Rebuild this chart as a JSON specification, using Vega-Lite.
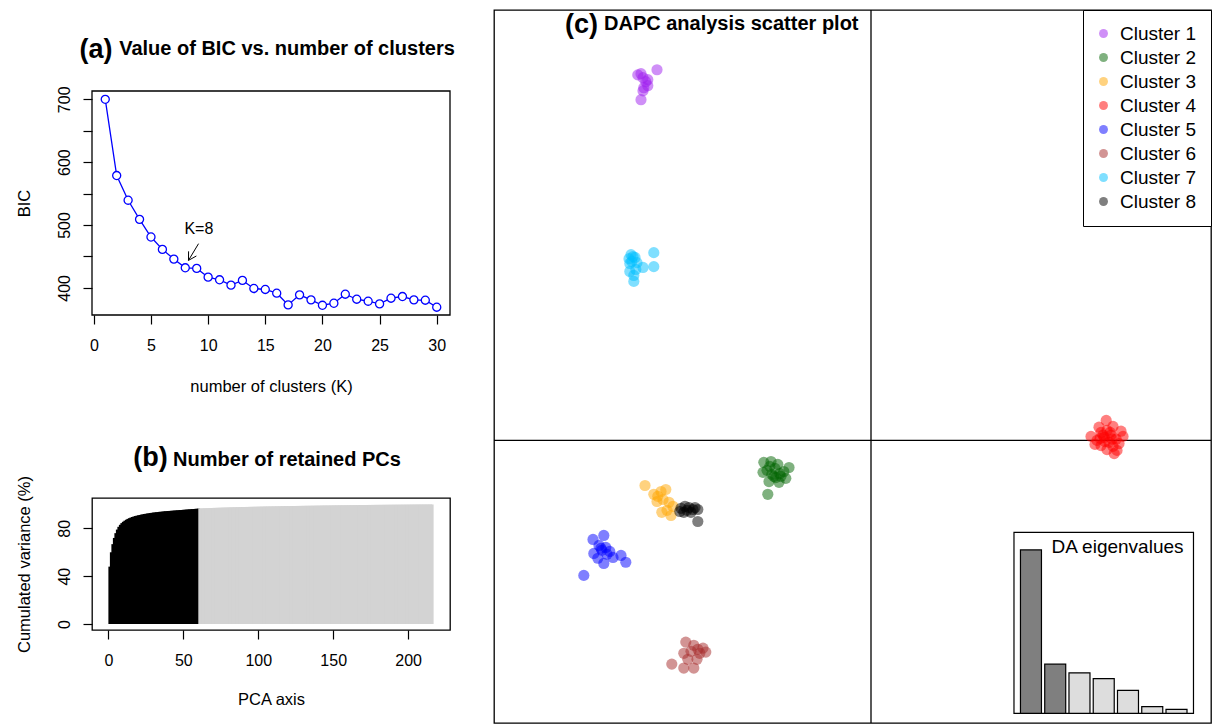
{
  "$schema": "https://vega.github.io/schema/vega-lite/v6.json",
  "padding": {"left": 15, "top": 8, "right": 0, "bottom": 0},
  "background": "white",
  "config": {
    "font": "Liberation Sans",
    "view": {"stroke": "black", "strokeWidth": 1.3},
    "axis": {"domain": false, "grid": false, "tickColor": "black", "tickSize": 9, "tickWidth": 1.2, "labelColor": "black", "labelFontSize": 16, "titleFontSize": 16.5, "titleFontWeight": "normal", "titleColor": "black", "labelFlush": false, "labelBound": false, "labelOverlap": false},
    "axisY": {"labelAngle": 270, "labelAlign": "center", "labelBaseline": "middle", "labelPadding": 19, "titleX": -68, "titleBaseline": "middle", "titleAngle": 270},
    "axisX": {"labelBaseline": "middle", "labelPadding": 21, "titleBaseline": "middle"},
    "title": {"fontSize": 20, "fontWeight": "bold", "color": "black", "baseline": "alphabetic", "anchor": "middle", "frame": "group"},
    "legend": {"orient": "top-right", "offset": 0, "padding": 14, "strokeColor": "black", "fillColor": "white", "labelFontSize": 19, "labelColor": "black", "symbolSize": 80, "symbolType": "circle", "symbolOpacity": 0.5, "symbolOffset": -3, "rowPadding": 4, "labelOffset": 7, "title": null}
  },
  "datasets": {
    "bic": [
      {"k": 1, "bic": 700}, {"k": 2, "bic": 578.7}, {"k": 3, "bic": 539.4}, {"k": 4, "bic": 509.0}, {"k": 5, "bic": 480.9},
      {"k": 6, "bic": 461.2}, {"k": 7, "bic": 445.8}, {"k": 8, "bic": 431.9}, {"k": 9, "bic": 430.9}, {"k": 10, "bic": 417.0},
      {"k": 11, "bic": 412.8}, {"k": 12, "bic": 404.3}, {"k": 13, "bic": 411.8}, {"k": 14, "bic": 399.0}, {"k": 15, "bic": 397.4},
      {"k": 16, "bic": 391.5}, {"k": 17, "bic": 372.9}, {"k": 18, "bic": 388.9}, {"k": 19, "bic": 380.9}, {"k": 20, "bic": 372.3},
      {"k": 21, "bic": 375.5}, {"k": 22, "bic": 389.9}, {"k": 23, "bic": 381.9}, {"k": 24, "bic": 378.7}, {"k": 25, "bic": 374.5},
      {"k": 26, "bic": 383.5}, {"k": 27, "bic": 386.2}, {"k": 28, "bic": 380.9}, {"k": 29, "bic": 380.3}, {"k": 30, "bic": 369.2}
    ],
    "arrow": [
      {"x": 9.16, "y": 470.3, "x2": 8.28, "y2": 443.7},
      {"x": 8.28, "y": 443.7, "x2": 8.97, "y2": 450.7},
      {"x": 8.28, "y": 443.7, "x2": 8.29, "y2": 458.1}
    ],
    "pcs": [
      {"pc":1,"cv":48.0},{"pc":2,"cv":60.0},{"pc":3,"cv":66.8},{"pc":4,"cv":72.0},{"pc":5,"cv":76.0},{"pc":6,"cv":79.0},{"pc":7,"cv":81.3},{"pc":8,"cv":83.0},{"pc":9,"cv":84.4},{"pc":10,"cv":85.5},
      {"pc":11,"cv":86.4},{"pc":12,"cv":87.2},{"pc":13,"cv":87.9},{"pc":14,"cv":88.5},{"pc":15,"cv":89.0},{"pc":16,"cv":89.5},{"pc":17,"cv":89.9},{"pc":18,"cv":90.3},{"pc":19,"cv":90.6},{"pc":20,"cv":90.9},
      {"pc":21,"cv":91.2},{"pc":22,"cv":91.5},{"pc":23,"cv":91.7},{"pc":24,"cv":92.0},{"pc":25,"cv":92.2},{"pc":26,"cv":92.4},{"pc":27,"cv":92.6},{"pc":28,"cv":92.8},{"pc":29,"cv":93.0},{"pc":30,"cv":93.2},
      {"pc":31,"cv":93.3},{"pc":32,"cv":93.5},{"pc":33,"cv":93.6},{"pc":34,"cv":93.8},{"pc":35,"cv":93.9},{"pc":36,"cv":94.0},{"pc":37,"cv":94.2},{"pc":38,"cv":94.3},{"pc":39,"cv":94.4},{"pc":40,"cv":94.5},
      {"pc":41,"cv":94.6},{"pc":42,"cv":94.7},{"pc":43,"cv":94.8},{"pc":44,"cv":94.9},{"pc":45,"cv":95.0},{"pc":46,"cv":95.1},{"pc":47,"cv":95.2},{"pc":48,"cv":95.3},{"pc":49,"cv":95.4},{"pc":50,"cv":95.5},
      {"pc":51,"cv":95.6},{"pc":52,"cv":95.7},{"pc":53,"cv":95.8},{"pc":54,"cv":95.9},{"pc":55,"cv":96.0},{"pc":56,"cv":96.1},{"pc":57,"cv":96.2},{"pc":58,"cv":96.3},{"pc":59,"cv":96.4},{"pc":60,"cv":96.5},
      {"pc":61,"cv":96.65},{"pc":62,"cv":96.70},{"pc":63,"cv":96.75},{"pc":64,"cv":96.80},{"pc":65,"cv":96.85},{"pc":66,"cv":96.90},{"pc":67,"cv":96.95},{"pc":68,"cv":97.00},{"pc":69,"cv":97.05},{"pc":70,"cv":97.10},
      {"pc":71,"cv":97.14},{"pc":72,"cv":97.18},{"pc":73,"cv":97.22},{"pc":74,"cv":97.26},{"pc":75,"cv":97.30},{"pc":76,"cv":97.34},{"pc":77,"cv":97.38},{"pc":78,"cv":97.42},{"pc":79,"cv":97.46},{"pc":80,"cv":97.50},
      {"pc":81,"cv":97.54},{"pc":82,"cv":97.58},{"pc":83,"cv":97.62},{"pc":84,"cv":97.66},{"pc":85,"cv":97.70},{"pc":86,"cv":97.73},{"pc":87,"cv":97.76},{"pc":88,"cv":97.79},{"pc":89,"cv":97.82},{"pc":90,"cv":97.85},
      {"pc":91,"cv":97.88},{"pc":92,"cv":97.91},{"pc":93,"cv":97.94},{"pc":94,"cv":97.97},{"pc":95,"cv":98.00},{"pc":96,"cv":98.03},{"pc":97,"cv":98.06},{"pc":98,"cv":98.09},{"pc":99,"cv":98.12},{"pc":100,"cv":98.15},
      {"pc":101,"cv":98.18},{"pc":102,"cv":98.21},{"pc":103,"cv":98.24},{"pc":104,"cv":98.27},{"pc":105,"cv":98.30},{"pc":106,"cv":98.32},{"pc":107,"cv":98.34},{"pc":108,"cv":98.36},{"pc":109,"cv":98.38},{"pc":110,"cv":98.40},
      {"pc":111,"cv":98.43},{"pc":112,"cv":98.45},{"pc":113,"cv":98.48},{"pc":114,"cv":98.50},{"pc":115,"cv":98.53},{"pc":116,"cv":98.55},{"pc":117,"cv":98.58},{"pc":118,"cv":98.60},{"pc":119,"cv":98.62},{"pc":120,"cv":98.64},
      {"pc":121,"cv":98.66},{"pc":122,"cv":98.68},{"pc":123,"cv":98.70},{"pc":124,"cv":98.72},{"pc":125,"cv":98.74},{"pc":126,"cv":98.76},{"pc":127,"cv":98.78},{"pc":128,"cv":98.80},{"pc":129,"cv":98.82},{"pc":130,"cv":98.84},
      {"pc":131,"cv":98.86},{"pc":132,"cv":98.88},{"pc":133,"cv":98.90},{"pc":134,"cv":98.92},{"pc":135,"cv":98.94},{"pc":136,"cv":98.96},{"pc":137,"cv":98.98},{"pc":138,"cv":99.00},{"pc":139,"cv":99.02},{"pc":140,"cv":99.04},
      {"pc":141,"cv":99.06},{"pc":142,"cv":99.08},{"pc":143,"cv":99.10},{"pc":144,"cv":99.12},{"pc":145,"cv":99.14},{"pc":146,"cv":99.15},{"pc":147,"cv":99.17},{"pc":148,"cv":99.19},{"pc":149,"cv":99.21},{"pc":150,"cv":99.23},
      {"pc":151,"cv":99.24},{"pc":152,"cv":99.26},{"pc":153,"cv":99.28},{"pc":154,"cv":99.29},{"pc":155,"cv":99.31},{"pc":156,"cv":99.33},{"pc":157,"cv":99.34},{"pc":158,"cv":99.36},{"pc":159,"cv":99.37},{"pc":160,"cv":99.39},
      {"pc":161,"cv":99.40},{"pc":162,"cv":99.42},{"pc":163,"cv":99.43},{"pc":164,"cv":99.45},{"pc":165,"cv":99.46},{"pc":166,"cv":99.48},{"pc":167,"cv":99.49},{"pc":168,"cv":99.51},{"pc":169,"cv":99.52},{"pc":170,"cv":99.54},
      {"pc":171,"cv":99.55},{"pc":172,"cv":99.56},{"pc":173,"cv":99.58},{"pc":174,"cv":99.59},{"pc":175,"cv":99.60},{"pc":176,"cv":99.62},{"pc":177,"cv":99.63},{"pc":178,"cv":99.64},{"pc":179,"cv":99.66},{"pc":180,"cv":99.67},
      {"pc":181,"cv":99.68},{"pc":182,"cv":99.69},{"pc":183,"cv":99.71},{"pc":184,"cv":99.72},{"pc":185,"cv":99.73},{"pc":186,"cv":99.74},{"pc":187,"cv":99.75},{"pc":188,"cv":99.77},{"pc":189,"cv":99.78},{"pc":190,"cv":99.79},
      {"pc":191,"cv":99.80},{"pc":192,"cv":99.81},{"pc":193,"cv":99.82},{"pc":194,"cv":99.83},{"pc":195,"cv":99.84},{"pc":196,"cv":99.85},{"pc":197,"cv":99.86},{"pc":198,"cv":99.87},{"pc":199,"cv":99.88},{"pc":200,"cv":99.89},
      {"pc":201,"cv":99.90},{"pc":202,"cv":99.91},{"pc":203,"cv":99.92},{"pc":204,"cv":99.93},{"pc":205,"cv":99.94},{"pc":206,"cv":99.95},{"pc":207,"cv":99.96},{"pc":208,"cv":99.97},{"pc":209,"cv":99.97},{"pc":210,"cv":99.98},
      {"pc":211,"cv":99.98},{"pc":212,"cv":99.99},{"pc":213,"cv":99.99},{"pc":214,"cv":100},{"pc":215,"cv":100},{"pc":216,"cv":100}
    ],
    "scatter": [
      {"cluster":"Cluster 1","ld1":-5.35,"ld2":9.28},{"cluster":"Cluster 1","ld1":-5.83,"ld2":9.15},{"cluster":"Cluster 1","ld1":-5.75,"ld2":9.18},{"cluster":"Cluster 1","ld1":-5.70,"ld2":9.08},{"cluster":"Cluster 1","ld1":-5.63,"ld2":8.98},
      {"cluster":"Cluster 1","ld1":-5.58,"ld2":9.03},{"cluster":"Cluster 1","ld1":-5.58,"ld2":8.88},{"cluster":"Cluster 1","ld1":-5.68,"ld2":8.83},{"cluster":"Cluster 1","ld1":-5.70,"ld2":8.75},{"cluster":"Cluster 1","ld1":-5.75,"ld2":8.53},
      {"cluster":"Cluster 2","ld1":-2.68,"ld2":-0.55},{"cluster":"Cluster 2","ld1":-2.50,"ld2":-0.53},{"cluster":"Cluster 2","ld1":-2.33,"ld2":-0.60},{"cluster":"Cluster 2","ld1":-2.05,"ld2":-0.68},{"cluster":"Cluster 2","ld1":-2.70,"ld2":-0.80},
      {"cluster":"Cluster 2","ld1":-2.18,"ld2":-0.78},{"cluster":"Cluster 2","ld1":-2.13,"ld2":-0.95},{"cluster":"Cluster 2","ld1":-2.30,"ld2":-1.05},{"cluster":"Cluster 2","ld1":-2.55,"ld2":-1.03},{"cluster":"Cluster 2","ld1":-2.58,"ld2":-1.35},
      {"cluster":"Cluster 2","ld1":-2.43,"ld2":-0.90},{"cluster":"Cluster 2","ld1":-2.48,"ld2":-0.85},{"cluster":"Cluster 2","ld1":-2.38,"ld2":-0.93},{"cluster":"Cluster 2","ld1":-2.60,"ld2":-0.75},{"cluster":"Cluster 2","ld1":-2.25,"ld2":-0.90},
      {"cluster":"Cluster 2","ld1":-2.40,"ld2":-0.70},{"cluster":"Cluster 2","ld1":-2.53,"ld2":-0.65},{"cluster":"Cluster 2","ld1":-2.28,"ld2":-0.83},
      {"cluster":"Cluster 3","ld1":-5.65,"ld2":-1.13},{"cluster":"Cluster 3","ld1":-5.43,"ld2":-1.35},{"cluster":"Cluster 3","ld1":-5.25,"ld2":-1.28},{"cluster":"Cluster 3","ld1":-5.13,"ld2":-1.23},{"cluster":"Cluster 3","ld1":-5.33,"ld2":-1.40},
      {"cluster":"Cluster 3","ld1":-5.20,"ld2":-1.48},{"cluster":"Cluster 3","ld1":-5.35,"ld2":-1.53},{"cluster":"Cluster 3","ld1":-5.05,"ld2":-1.55},{"cluster":"Cluster 3","ld1":-4.95,"ld2":-1.65},{"cluster":"Cluster 3","ld1":-5.23,"ld2":-1.80},
      {"cluster":"Cluster 3","ld1":-5.00,"ld2":-1.88},{"cluster":"Cluster 3","ld1":-5.10,"ld2":-1.75},
      {"cluster":"Cluster 4","ld1":5.88,"ld2":0.50},{"cluster":"Cluster 4","ld1":5.70,"ld2":0.33},{"cluster":"Cluster 4","ld1":6.05,"ld2":0.35},{"cluster":"Cluster 4","ld1":6.25,"ld2":0.23},{"cluster":"Cluster 4","ld1":5.50,"ld2":0.10},
      {"cluster":"Cluster 4","ld1":5.75,"ld2":0.20},{"cluster":"Cluster 4","ld1":5.90,"ld2":0.25},{"cluster":"Cluster 4","ld1":6.00,"ld2":0.13},{"cluster":"Cluster 4","ld1":5.83,"ld2":0.08},{"cluster":"Cluster 4","ld1":6.13,"ld2":0.03},
      {"cluster":"Cluster 4","ld1":5.65,"ld2":0.00},{"cluster":"Cluster 4","ld1":5.95,"ld2":-0.05},{"cluster":"Cluster 4","ld1":6.20,"ld2":-0.08},{"cluster":"Cluster 4","ld1":5.75,"ld2":-0.13},{"cluster":"Cluster 4","ld1":6.05,"ld2":-0.15},
      {"cluster":"Cluster 4","ld1":5.90,"ld2":-0.23},{"cluster":"Cluster 4","ld1":6.15,"ld2":-0.25},{"cluster":"Cluster 4","ld1":6.08,"ld2":-0.33},{"cluster":"Cluster 4","ld1":5.60,"ld2":-0.10},{"cluster":"Cluster 4","ld1":5.80,"ld2":0.13},
      {"cluster":"Cluster 4","ld1":5.98,"ld2":0.20},{"cluster":"Cluster 4","ld1":5.85,"ld2":-0.03},{"cluster":"Cluster 4","ld1":6.03,"ld2":0.03},{"cluster":"Cluster 4","ld1":6.30,"ld2":0.10},{"cluster":"Cluster 4","ld1":5.73,"ld2":0.05},
      {"cluster":"Cluster 5","ld1":-6.95,"ld2":-2.48},{"cluster":"Cluster 5","ld1":-6.68,"ld2":-2.38},{"cluster":"Cluster 5","ld1":-6.80,"ld2":-2.63},{"cluster":"Cluster 5","ld1":-6.63,"ld2":-2.68},{"cluster":"Cluster 5","ld1":-6.73,"ld2":-2.75},
      {"cluster":"Cluster 5","ld1":-6.53,"ld2":-2.78},{"cluster":"Cluster 5","ld1":-6.93,"ld2":-2.83},{"cluster":"Cluster 5","ld1":-6.25,"ld2":-2.88},{"cluster":"Cluster 5","ld1":-6.13,"ld2":-3.05},{"cluster":"Cluster 5","ld1":-6.68,"ld2":-3.08},
      {"cluster":"Cluster 5","ld1":-6.83,"ld2":-2.95},{"cluster":"Cluster 5","ld1":-6.45,"ld2":-2.93},{"cluster":"Cluster 5","ld1":-7.18,"ld2":-3.38},{"cluster":"Cluster 5","ld1":-6.60,"ld2":-2.85},{"cluster":"Cluster 5","ld1":-6.75,"ld2":-2.70},
      {"cluster":"Cluster 6","ld1":-4.63,"ld2":-5.05},{"cluster":"Cluster 6","ld1":-4.43,"ld2":-5.13},{"cluster":"Cluster 6","ld1":-4.20,"ld2":-5.20},{"cluster":"Cluster 6","ld1":-4.13,"ld2":-5.30},{"cluster":"Cluster 6","ld1":-4.68,"ld2":-5.33},
      {"cluster":"Cluster 6","ld1":-4.50,"ld2":-5.28},{"cluster":"Cluster 6","ld1":-4.33,"ld2":-5.23},{"cluster":"Cluster 6","ld1":-4.35,"ld2":-5.48},{"cluster":"Cluster 6","ld1":-4.58,"ld2":-5.48},{"cluster":"Cluster 6","ld1":-4.98,"ld2":-5.60},
      {"cluster":"Cluster 6","ld1":-4.68,"ld2":-5.70},{"cluster":"Cluster 6","ld1":-4.43,"ld2":-5.70},{"cluster":"Cluster 6","ld1":-4.28,"ld2":-5.33},
      {"cluster":"Cluster 7","ld1":-6.00,"ld2":4.65},{"cluster":"Cluster 7","ld1":-5.95,"ld2":4.60},{"cluster":"Cluster 7","ld1":-6.05,"ld2":4.55},{"cluster":"Cluster 7","ld1":-5.90,"ld2":4.58},{"cluster":"Cluster 7","ld1":-5.98,"ld2":4.48},
      {"cluster":"Cluster 7","ld1":-6.03,"ld2":4.43},{"cluster":"Cluster 7","ld1":-5.85,"ld2":4.45},{"cluster":"Cluster 7","ld1":-5.70,"ld2":4.33},{"cluster":"Cluster 7","ld1":-5.43,"ld2":4.70},{"cluster":"Cluster 7","ld1":-5.43,"ld2":4.35},
      {"cluster":"Cluster 7","ld1":-6.03,"ld2":4.23},{"cluster":"Cluster 7","ld1":-5.93,"ld2":4.13},{"cluster":"Cluster 7","ld1":-5.93,"ld2":3.98},{"cluster":"Cluster 7","ld1":-5.88,"ld2":4.28},
      {"cluster":"Cluster 8","ld1":-4.75,"ld2":-1.70},{"cluster":"Cluster 8","ld1":-4.65,"ld2":-1.65},{"cluster":"Cluster 8","ld1":-4.55,"ld2":-1.68},{"cluster":"Cluster 8","ld1":-4.45,"ld2":-1.73},{"cluster":"Cluster 8","ld1":-4.33,"ld2":-1.73},
      {"cluster":"Cluster 8","ld1":-4.68,"ld2":-1.80},{"cluster":"Cluster 8","ld1":-4.50,"ld2":-1.80},{"cluster":"Cluster 8","ld1":-4.60,"ld2":-1.75},{"cluster":"Cluster 8","ld1":-4.40,"ld2":-1.68},{"cluster":"Cluster 8","ld1":-4.33,"ld2":-2.03},
      {"cluster":"Cluster 8","ld1":-4.78,"ld2":-1.78}
    ],
    "eig": [
      {"k": 1, "eigen": 100}, {"k": 2, "eigen": 30.1}, {"k": 3, "eigen": 24.8}, {"k": 4, "eigen": 21.2},
      {"k": 5, "eigen": 14.1}, {"k": 6, "eigen": 4.1}, {"k": 7, "eigen": 2.4}
    ]
  },
  "concat": [
    {
      "vconcat": [
        {
          "width": 358, "height": 305,
          "view": {"stroke": null},
          "title": {"text": "Value of BIC vs. number of clusters", "offset": 0, "dy": 49, "dx": 16},
          "layer": [
            {
              "data": {"values": [{}]},
              "mark": {"type": "rect", "fillOpacity": 0, "stroke": "black", "strokeWidth": 1.3},
              "encoding": {
                "x": {"datum": -0.16, "type": "quantitative", "scale": {"domain": [-0.16, 31.16], "nice": false, "zero": false},
                      "axis": {"values": [0, 5, 10, 15, 20, 25, 30], "title": "number of clusters (K)", "titleY": 71}},
                "x2": {"datum": 31.16},
                "y": {"datum": 356.8, "type": "quantitative", "scale": {"domain": [356.8, 842.1], "nice": false, "zero": false},
                      "axis": {"values": [400, 450, 500, 550, 600, 650, 700], "labelExpr": "datum.value % 100 === 0 ? datum.label : ''", "title": "BIC", "titleY": 193}},
                "y2": {"datum": 713.2}
              }
            },
            {
              "data": {"name": "bic"},
              "mark": {"type": "line", "color": "#0000FF", "strokeWidth": 1.3},
              "encoding": {
                "x": {"field": "k", "type": "quantitative"},
                "y": {"field": "bic", "type": "quantitative"}
              }
            },
            {
              "data": {"name": "bic"},
              "mark": {"type": "point", "shape": "circle", "filled": true, "fill": "white", "stroke": "#0000FF", "strokeWidth": 1.3, "size": 65, "opacity": 1},
              "encoding": {
                "x": {"field": "k", "type": "quantitative"},
                "y": {"field": "bic", "type": "quantitative"}
              }
            },
            {
              "data": {"name": "arrow"},
              "mark": {"type": "rule", "color": "black", "strokeWidth": 1},
              "encoding": {
                "x": {"field": "x", "type": "quantitative"},
                "x2": {"field": "x2"},
                "y": {"field": "y", "type": "quantitative"},
                "y2": {"field": "y2"}
              }
            },
            {
              "data": {"values": [{}]},
              "mark": {"type": "text", "text": "K=8", "fontSize": 16, "color": "black", "baseline": "middle", "align": "center"},
              "encoding": {
                "x": {"datum": 9.19, "type": "quantitative"},
                "y": {"datum": 493, "type": "quantitative"}
              }
            },
            {
              "data": {"values": [{}]},
              "mark": {"type": "text", "text": "(a)", "fontSize": 27, "fontWeight": "bold", "color": "black", "baseline": "middle", "align": "center"},
              "encoding": {
                "x": {"datum": 0.19, "type": "quantitative"},
                "y": {"datum": 778.5, "type": "quantitative"}
              }
            }
          ]
        },
        {
          "width": 358, "height": 132,
          "title": {"text": "Number of retained PCs", "offset": 17, "dx": 16, "dy": 43},
          "layer": [
            {
              "data": {"name": "pcs"},
              "mark": {"type": "bar", "size": 3},
              "encoding": {
                "x": {"field": "pc", "type": "quantitative", "scale": {"domain": [-7.6, 224.6], "nice": false, "zero": false},
                      "axis": {"values": [0, 50, 100, 150, 200], "title": "PCA axis", "titleY": 69}},
                "y": {"field": "cv", "type": "quantitative", "scale": {"domain": [-5, 105.4], "nice": false, "zero": false},
                      "axis": {"values": [0, 20, 40, 60, 80, 100], "labelExpr": "datum.value % 40 === 0 ? datum.label : ''", "title": "Cumulated variance (%)"}},
                "color": {"condition": {"test": "datum.pc <= 60", "value": "black"}, "value": "#D3D3D3"}
              }
            },
            {
              "data": {"values": [{}]},
              "mark": {"type": "text", "text": "(b)", "fontSize": 27, "fontWeight": "bold", "color": "black", "baseline": "middle", "align": "center"},
              "encoding": {
                "x": {"datum": 28.1, "type": "quantitative"},
                "y": {"datum": 138.8, "type": "quantitative"}
              }
            }
          ]
        }
      ],
      "spacing": 183,
      "bounds": "flush"
    },
    {
      "width": 717, "height": 713,
      "title": {"text": "DAPC analysis scatter plot", "anchor": "start", "dx": 110, "dy": 25, "offset": 0},
      "layer": [
        {
          "layer": [
            {
              "data": {"values": [{}]},
              "mark": {"type": "rule", "color": "black", "strokeWidth": 1.3},
              "encoding": {"x": {"datum": 0, "type": "quantitative", "scale": {"domain": [-9.425, 8.5], "nice": false, "zero": false}, "axis": null}}
            },
            {
              "data": {"values": [{}]},
              "mark": {"type": "rule", "color": "black", "strokeWidth": 1.3},
              "encoding": {"y": {"datum": 0, "type": "quantitative", "scale": {"domain": [-7.075, 10.775], "nice": false, "zero": false}, "axis": null}}
            },
            {
              "data": {"name": "scatter"},
              "mark": {"type": "point", "shape": "circle", "filled": true, "size": 125, "opacity": 0.5, "strokeWidth": 0},
              "encoding": {
                "x": {"field": "ld1", "type": "quantitative", "axis": null},
                "y": {"field": "ld2", "type": "quantitative", "axis": null},
                "color": {"field": "cluster", "type": "nominal",
                          "scale": {"domain": ["Cluster 1", "Cluster 2", "Cluster 3", "Cluster 4", "Cluster 5", "Cluster 6", "Cluster 7", "Cluster 8"],
                                    "range": ["#A020F0", "#006400", "#FFA500", "#FF0000", "#0000FF", "#A52A2A", "#00BFFF", "#000000"]},
                          "legend": {"title": null, "orient": "top-right"}}
              }
            },
            {
              "data": {"values": [{}]},
              "mark": {"type": "text", "text": "(c)", "fontSize": 27, "fontWeight": "bold", "color": "black", "baseline": "middle", "align": "center"},
              "encoding": {
                "x": {"datum": -7.24, "type": "quantitative"},
                "y": {"datum": 10.4, "type": "quantitative"}
              }
            }
          ]
        },
        {
          "layer": [
            {
              "data": {"values": [{}]},
              "mark": {"type": "rect", "fill": "white", "stroke": "black", "strokeWidth": 1.2},
              "encoding": {
                "x": {"datum": 0.3, "type": "quantitative", "scale": {"domain": [-20.93, 8.216], "nice": false, "zero": false}, "axis": null},
                "x2": {"datum": 7.7},
                "y": {"datum": 0, "type": "quantitative", "scale": {"domain": [-5.93, 430.5], "nice": false, "zero": false}, "axis": null},
                "y2": {"datum": 110.8}
              }
            },
            {
              "data": {"name": "eig"},
              "mark": {"type": "bar", "size": 21, "stroke": "black", "strokeWidth": 1.2},
              "encoding": {
                "x": {"field": "k", "type": "quantitative"},
                "y": {"field": "eigen", "type": "quantitative"},
                "color": {"condition": {"test": "datum.k <= 2", "value": "#7F7F7F"}, "value": "#DDDDDD"}
              }
            },
            {
              "data": {"values": [{}]},
              "mark": {"type": "text", "text": "DA eigenvalues", "fontSize": 19, "align": "right", "baseline": "middle", "color": "black"},
              "encoding": {
                "x": {"datum": 7.29, "type": "quantitative"},
                "y": {"datum": 101.6, "type": "quantitative"}
              }
            }
          ]
        }
      ],
      "resolve": {"scale": {"x": "independent", "y": "independent"}}
    }
  ],
  "columns": 2,
  "spacing": 37,
  "align": "none",
  "bounds": "full",
  "resolve": {"scale": {"color": "independent"}, "legend": {"color": "independent"}}
}
